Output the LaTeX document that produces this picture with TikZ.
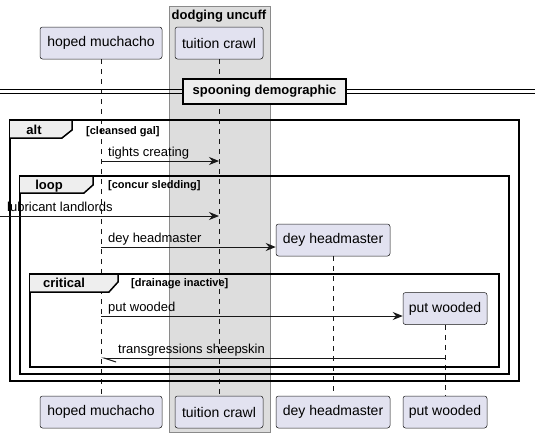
\documentclass[tikz,border=0pt]{standalone}
\usepackage{fontspec}
\setmainfont{Liberation Sans}
\usepackage{xcolor}
\usepackage{tikz}
\usetikzlibrary{arrows.meta}
\definecolor{partfill}{HTML}{E2E2F0}
\definecolor{partline}{HTML}{181818}
\definecolor{boxfill}{HTML}{DDDDDD}
\definecolor{boxline}{HTML}{8A8A8A}
\definecolor{tabfill}{HTML}{EEEEEE}
\tikzset{
  part/.style   ={draw=partline, line width=0.5pt, fill=partfill, rounded corners=2.5pt, minimum height=32pt, inner sep=0pt, font=\fontsize{14}{16}\selectfont},
  life/.style   ={draw=partline, line width=0.5pt, dash pattern=on 5pt off 5pt},
  grp/.style    ={draw=boxline, line width=0.8pt, fill=boxfill},
  frm/.style    ={draw=black, line width=1.5pt},
  tab/.style    ={draw=black, line width=1.5pt, fill=tabfill},
  divbox/.style ={draw=black, line width=2pt, fill=tabfill, minimum width=163pt, minimum height=25pt, inner sep=0pt, font=\bfseries\fontsize{13}{15}\selectfont},
  msg/.style    ={-{Stealth[length=10pt, width=8pt]}, line width=1pt, draw=partline},
  ret/.style    ={-{Straight Barb[left, length=12pt, width=8pt]}, line width=1pt, draw=partline},
  lbl/.style    ={font=\fontsize{13}{15}\selectfont, anchor=base west, inner sep=0pt},
  grd/.style    ={font=\bfseries\fontsize{11}{13}\selectfont, anchor=base west, inner sep=0pt},
  kw/.style     ={font=\bfseries\fontsize{13}{15}\selectfont, inner sep=0pt},
}

\begin{document}
\begin{tikzpicture}[x=1pt, y=-1pt]
  \useasboundingbox (0,0) rectangle (535,437);

  % Grey box round the tuition crawl lane
  \draw[grp] (169,6) rectangle (270,432);
  \node[kw, anchor=base] (grpTitle) at (219,19) {dodging uncuff};

  % Top row: participants
  \node[part, minimum width=122pt] (hmTop) at (101,43)  {hoped muchacho};
  \node[part, minimum width=88pt]  (tcTop) at (219,43)  {tuition crawl};
  % Bottom row: participants again
  \node[part, minimum width=122pt] (hmBot) at (101,412) {hoped muchacho};
  \node[part, minimum width=88pt]  (tcBot) at (219,412) {tuition crawl};
  \node[part, minimum width=114pt] (dhBot) at (333,412) {dey headmaster};
  \node[part, minimum width=84pt]  (pwBot) at (445,412) {put wooded};
  % created on the way down
  \node[part, minimum width=114pt] (dhNew) at (333,240)   {dey headmaster};
  \node[part, minimum width=84pt]  (pwNew) at (445,308.5) {put wooded};

  % Lifelines
  \draw[life] (hmTop.south) -- (hmBot.north);
  \draw[life] (tcTop.south) -- (tcBot.north);
  \draw[life] (dhNew.south) -- (dhBot.north);
  \draw[life] (pwNew.south) -- (pwBot.north);

  % Divider
  \draw[line width=1pt] (0,89) -- (535,89);
  \draw[line width=1pt] (0,93.5) -- (535,93.5);
  \node[divbox] (div) at (264.5,91) {spooning demographic};

  % alt frame
  \draw[frm] (10,120) rectangle (519,381);
  \draw[tab] (10,120) -- (72,120) -- (72,130) -- (62,138) -- (10,138);
  \node[kw, anchor=base] (altKw) at (34,134) {alt};
  \node[grd] (altGrd) at (86,134) {[cleansed gal]};

  % loop frame
  \draw[frm] (20,176) rectangle (509,374);
  \draw[tab] (20,176) -- (93,176) -- (93,185) -- (84,193) -- (20,193);
  \node[kw, anchor=base] (loopKw) at (49,189) {loop};
  \node[grd] (loopGrd) at (108,188) {[concur sledding]};

  % critical frame
  \draw[frm] (30,274) rectangle (499,367);
  \draw[tab] (30,274) -- (118,274) -- (118,282) -- (109,292) -- (30,292);
  \node[kw, anchor=base] (critKw) at (64,287) {critical};
  \node[grd] (critGrd) at (131,286) {[drainage inactive]};

  % Messages
  \draw[msg] (hmTop |- 0,161) -- (tcTop |- 0,161);
  \node[lbl] (m1) at (108,156) {tights creating};

  \coordinate (lbIn) at (0,216);
  \draw[msg] (lbIn) -- (tcTop |- lbIn);
  \node[lbl] (m2) at (7,211) {lubricant landlords};

  \draw[msg] (hmTop |- 0,247) -- (dhNew.west |- 0,247);
  \node[lbl] (m3) at (108,242) {dey headmaster};

  \draw[msg] (hmTop |- 0,316) -- (pwNew.west |- 0,316);
  \node[lbl] (m4) at (108,311) {put wooded};

  % reply with half open head
  \draw[ret] (pwNew |- 0,358) -- (hmTop |- 0,358);
  \node[lbl] (m5) at (118,353) {transgressions sheepskin};
\end{tikzpicture}
\end{document}
